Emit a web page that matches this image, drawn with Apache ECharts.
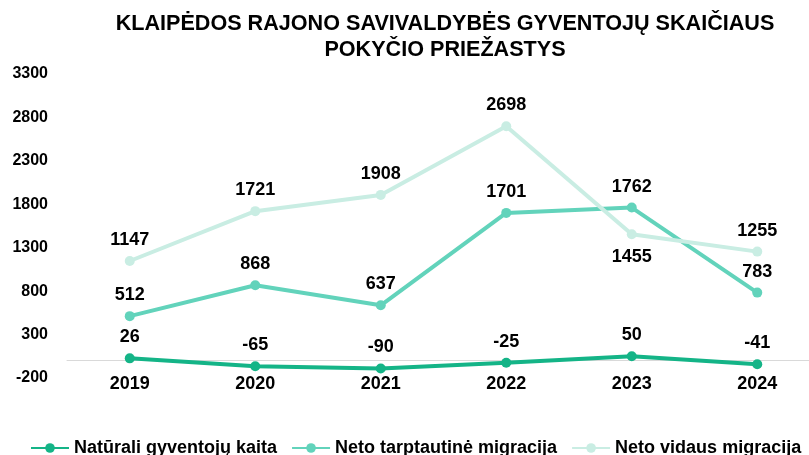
<!DOCTYPE html>
<html>
<head>
<meta charset="utf-8">
<script src="https://cdn.jsdelivr.net/npm/echarts@6/dist/echarts.min.js"></script>
<style>
  html, body { margin: 0; padding: 0; background: #fff; overflow: hidden; }
  /* plot area runs a little past the right edge of the picture */
  #chart { width: 820px; height: 455px; }
</style>
</head>
<body>
<div id="chart"></div>
<script>
var years = ['2019', '2020', '2021', '2022', '2023', '2024'];
var naturali = [26, -65, -90, -25, 50, -41];
var tarptautine = [512, 868, 637, 1701, 1762, 783];
var vidaus = [1147, 1721, 1908, 2698, 1455, 1255];
var seriesNames = ['Natūrali gyventojų kaita', 'Neto tarptautinė migracija', 'Neto vidaus migracija'];
var colors = ['#14b487', '#62d3bb', '#c9ede3'];

var chart = echarts.init(document.getElementById('chart'));

var font = 'Liberation Sans, Arial, sans-serif';

function makeSeries(name, data, color) {
  return {
    name: name,
    type: 'line',
    data: data,
    symbol: 'circle',
    symbolSize: 10,
    lineStyle: { width: 4, color: color },
    itemStyle: { color: color },
    label: {
      show: true,
      position: 'top',
      distance: 7,
      color: '#000',
      fontFamily: font,
      fontWeight: 'bold',
      fontSize: 18
    }
  };
}

var s3 = makeSeries(seriesNames[2], vidaus, colors[2]);
// 2023 label sits below its point
s3.data = vidaus.map(function (v, i) {
  if (i === 4) {
    return { value: v, label: { position: 'bottom', distance: 9 } };
  }
  return v;
});

var option = {
  backgroundColor: '#ffffff',
  animation: false,
  color: colors,
  title: {
    text: 'KLAIPĖDOS RAJONO SAVIVALDYBĖS GYVENTOJŲ SKAIČIAUS\nPOKYČIO PRIEŽASTYS',
    left: 440,
    textAlign: 'center',
    top: 6,
    textStyle: {
      fontFamily: font,
      fontWeight: 'bold',
      fontSize: 21.6,
      lineHeight: 26,
      color: '#000'
    }
  },
  legend: {
    data: seriesNames,
    left: 30,
    top: 439,
    width: 800,
    padding: 0,
    itemWidth: 38,
    itemHeight: 12,
    itemGap: 14,
    textStyle: {
      fontFamily: font,
      fontWeight: 'bold',
      fontSize: 18,
      color: '#000'
    }
  },
  grid: {
    left: 67,
    right: 0,
    top: 74,
    height: 304,
    containLabel: false
  },
  xAxis: {
    type: 'category',
    data: years,
    axisLine: { onZero: true, lineStyle: { color: '#d9d9d9', width: 1 } },
    axisTick: { show: false },
    axisLabel: {
      margin: -3,
      color: '#000',
      fontFamily: font,
      fontWeight: 'bold',
      fontSize: 18
    }
  },
  yAxis: {
    type: 'value',
    min: -200,
    max: 3300,
    interval: 500,
    splitLine: { show: false },
    axisLine: { show: false },
    axisTick: { show: false },
    axisLabel: {
      margin: 19,
      color: '#000',
      fontFamily: font,
      fontWeight: 'bold',
      fontSize: 16,
      formatter: function (v) { return String(v); }
    }
  },
  series: [
    makeSeries(seriesNames[0], naturali, colors[0]),
    makeSeries(seriesNames[1], tarptautine, colors[1]),
    s3
  ]
};

chart.setOption(option);
</script>
</body>
</html>
